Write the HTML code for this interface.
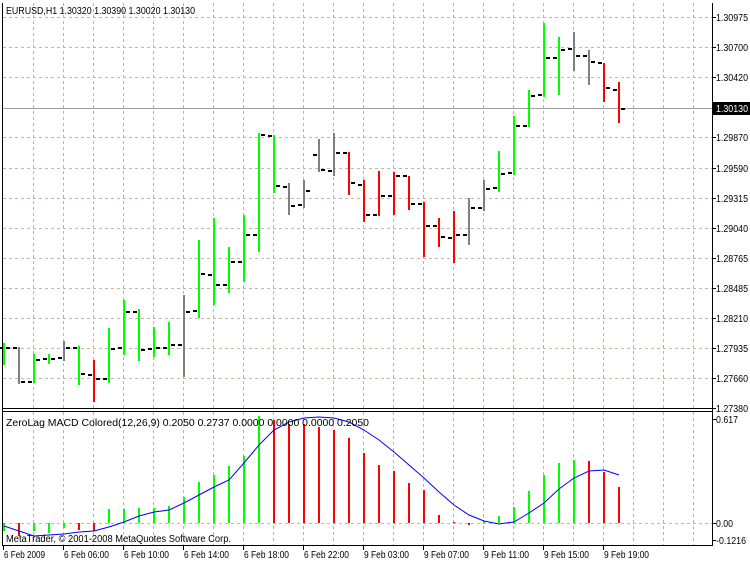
<!DOCTYPE html>
<html><head><meta charset="utf-8"><style>
body{margin:0;background:#fff;}
svg{display:block;font-family:"Liberation Sans",sans-serif;font-size:10px;}
</style></head><body>
<svg id="s" width="750" height="563" xmlns="http://www.w3.org/2000/svg">
<rect width="750" height="563" fill="#fff"/>
<g id="grid"></g>
<g id="bars"></g>
<g id="hist"></g>
<polyline id="sig" fill="none" stroke="#0000ff" stroke-width="1"/>
<g id="axes" stroke="#000" stroke-width="1">
<line x1="2.5" y1="3" x2="2.5" y2="546"/>
<line x1="712.5" y1="3" x2="712.5" y2="546"/>
<line x1="2" y1="408.5" x2="713" y2="408.5"/>
<line x1="2" y1="411.5" x2="713" y2="411.5"/>
<line x1="2" y1="545.5" x2="713" y2="545.5"/>
</g>
<text x="6" y="14" fill="#000" textLength="189" lengthAdjust="spacingAndGlyphs">EURUSD,H1  1.30320 1.30390 1.30020 1.30130</text>
<text x="6" y="426" fill="#000" textLength="363" lengthAdjust="spacingAndGlyphs">ZeroLag MACD Colored(12,26,9) 0.2050 0.2737 0.0000 0.0000 0.0000 0.2050</text>
<text x="6" y="542" fill="#000" textLength="225" lengthAdjust="spacingAndGlyphs">MetaTrader, © 2001-2008 MetaQuotes Software Corp.</text>
<g id="lab" fill="#000"></g>
</svg>
<script>
var NS="http://www.w3.org/2000/svg";
function el(p,t,a,txt){var e=document.createElementNS(NS,t);for(var k in a)e.setAttribute(k,a[k]);if(txt)e.textContent=txt;document.getElementById(p).appendChild(e);return e;}
var hy=[17,47,77,108,137,168,198,228,258,288,318,348,378];
hy.forEach(function(y){el("grid","line",{x1:3,x2:712,y1:y+.5,y2:y+.5,stroke:"#c8b4a0","stroke-dasharray":"3,3"});});
el("grid","line",{x1:3,x2:712,y1:523.5,y2:523.5,stroke:"#c8b4a0","stroke-dasharray":"3,3"});
for(var x=33;x<712;x+=30){el("grid","line",{x1:x+.5,x2:x+.5,y1:3,y2:408,stroke:"#b4b4b4","stroke-dasharray":"3,3"});el("grid","line",{x1:x+.5,x2:x+.5,y1:412,y2:545,stroke:"#b4b4b4","stroke-dasharray":"3,3"});}
el("grid","line",{x1:3,x2:712,y1:108.5,y2:108.5,stroke:"#a0a0a0"});
var G="#00ff00",R="#ff0000",Y="#808080";
var B=[[343,365,348,348,G],[347,384,348,382,Y],[354,383,382,360,G],[354,364,359,359,G],[341,361,358,348,Y],[346,385,348,374,G],[360,402,375,379,R],[328,383,379,349,G],[300,355,348,312,G],[309,361,312,350,G],[327,357,349,348,G],[322,355,348,345,G],[295,377,345,312,Y],[240,318,311,274,G],[218,305,275,285,G],[247,293,285,262,G],[215,282,262,235,G],[133,252,235,135,G],[135,193,136,186,G],[183,215,187,206,Y],[180,208,205,191,Y],[139,172,155,170,Y],[133,176,171,153,Y],[152,195,153,183,R],[180,222,185,215,R],[171,216,215,196,R],[172,215,196,176,R],[176,210,176,204,R],[202,257,204,226,R],[218,247,226,237,R],[211,263,238,235,R],[198,245,235,208,Y],[180,211,208,189,Y],[151,192,188,174,G],[116,175,173,126,G],[90,127,126,96,G],[23,97,95,58,G],[37,95,58,50,G],[32,71,49,56,Y],[50,85,56,62,Y],[63,102,63,88,R],[82,123,90,109,R]];
B.forEach(function(b,i){var x=3+15*i;
el("bars","rect",{x:x,y:b[0],width:2,height:b[1]-b[0],fill:b[4]});
el("bars","rect",{x:x-5,y:b[2]-1,width:4,height:2,fill:"#000"});
el("bars","rect",{x:x+3,y:b[3]-1,width:4,height:2,fill:"#000"});});
var H=[[531,G],[536,R],[531,G],[533,G],[528,G],[530,R],[531,R],[509,G],[509,G],[508,G],[508,G],[506,G],[497,G],[482,G],[475,G],[466,G],[456,G],[416,G],[420,R],[424,R],[424,R],[427,R],[430,R],[438,R],[453,R],[465,R],[471,R],[483,R],[490,R],[515,R],[522,R],[525,R],[521,G],[516,G],[507,G],[491,G],[475,G],[463,G],[460,G],[461,R],[472,R],[487,R]];
H.forEach(function(h,i){var x=3+15*i,y1=Math.min(h[0],523),y2=Math.max(h[0],523);el("hist","rect",{x:x,y:y1,width:2,height:Math.max(1,y2-y1),fill:h[1]});});
var S=[526,531,536,535,534,532,531,527,522,516,512,510,503,495,487,480,463,445,430,422,418,417,418,422,430,440,452,465,478,492,505,515,521,524,522,513,503,489,478,471,470,475];
document.getElementById("sig").setAttribute("points",S.map(function(y,i){return (4+15*i)+","+y;}).join(" "));
var PL=["1.30975","1.30700","1.30420","1.30130","1.29870","1.29590","1.29315","1.29040","1.28765","1.28485","1.28210","1.27935","1.27660","1.27380"];
var PY=[17,47,77,108,137,168,198,228,258,288,318,348,378,408];
PL.forEach(function(t,i){var y=PY[i];el("lab","line",{x1:712,x2:716,y1:y+.5,y2:y+.5,stroke:"#000"});
if(i==3){el("lab","rect",{x:713,y:y-6,width:37,height:13,fill:"#000"});el("lab","text",{x:716,y:y+4,fill:"#fff",textLength:32,lengthAdjust:"spacingAndGlyphs"},t);}
else el("lab","text",{x:716,y:y+4,textLength:32,lengthAdjust:"spacingAndGlyphs"},t);});
[[419,"0.617",22],[523,"0.00",17],[540,"-0.1216",30]].forEach(function(a){el("lab","line",{x1:712,x2:716,y1:a[0]+.5,y2:a[0]+.5,stroke:"#000"});el("lab","text",{x:716,y:a[0]+4,textLength:a[2],lengthAdjust:"spacingAndGlyphs"},a[1]);});
var TL=["6 Feb 2009","6 Feb 06:00","6 Feb 10:00","6 Feb 14:00","6 Feb 18:00","6 Feb 22:00","9 Feb 03:00","9 Feb 07:00","9 Feb 11:00","9 Feb 15:00","9 Feb 19:00"];
TL.forEach(function(t,i){var x=3+60*i;el("lab","line",{x1:x+.5,x2:x+.5,y1:546,y2:550,stroke:"#000"});el("lab","text",{x:x+1,y:558,textLength:i==0?41:45,lengthAdjust:"spacingAndGlyphs"},t);});
</script>
</body></html>
